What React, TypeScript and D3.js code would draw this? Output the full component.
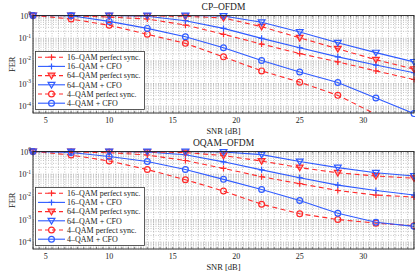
import React from 'react';
import { scaleLinear, scaleLog, line, range } from 'd3';

const width = 415;
const height = 272;
const plotLeft = 33;
const plotRight = 414;
const plotTop = 15.5;
const plotBottom = 113;
const panelOffset = 136;

const snr = [4, 7, 10, 13, 16, 19, 22, 25, 28, 31, 34];
const xTicks = [5, 10, 15, 20, 25, 30];
const yTicks = [0, -1, -2, -3, -4];

// CP-OFDM
const cpQam16Perfect = [1, 0.97, 0.85, 0.7, 0.38, 0.148, 0.055, 0.021, 0.009, 0.0036, 0.0015];
const cpQam16Cfo = [1, 1, 1, 0.93, 0.59, 0.27, 0.098, 0.038, 0.015, 0.0065, 0.003];
const cpQam64Perfect = [1, 1, 0.98, 0.96, 0.92, 0.78, 0.32, 0.104, 0.034, 0.0112, 0.0043];
const cpQam64Cfo = [1, 1, 1, 1, 1, 0.95, 0.5, 0.186, 0.063, 0.023, 0.009];
const cpQam4Perfect = [1, 0.7, 0.37, 0.148, 0.059, 0.015, 0.0036, 0.00115, 0.0003, 0.000044, 0.00001];
const cpQam4Cfo = [1, 0.97, 0.55, 0.27, 0.115, 0.038, 0.0104, 0.0032, 0.0011, 0.00023, 0.000047];

// OQAM-OFDM
const oqQam16Perfect = [1, 0.97, 0.88, 0.7, 0.4, 0.18, 0.077, 0.038, 0.019, 0.012, 0.0098];
const oqQam16Cfo = [1, 1, 1, 0.95, 0.72, 0.35, 0.155, 0.07, 0.033, 0.019, 0.012];
const oqQam64Perfect = [1, 1, 0.98, 0.95, 0.9, 0.66, 0.38, 0.195, 0.115, 0.083, 0.066];
const oqQam64Cfo = [1, 1, 1, 1, 1, 0.95, 0.73, 0.36, 0.195, 0.115, 0.083];
const oqQam4Perfect = [1, 0.7, 0.38, 0.16, 0.057, 0.018, 0.0047, 0.0018, 0.001, 0.00069, 0.00053];
const oqQam4Cfo = [1, 0.9, 0.6, 0.36, 0.16, 0.059, 0.021, 0.0069, 0.0019, 0.00076, 0.0005];

const labels = [
  '16\u2013QAM perfect sync.',
  '16\u2013QAM + CFO',
  '64\u2013QAM perfect sync.',
  '64\u2013QAM + CFO',
  '4\u2013QAM perfect sync.',
  '4\u2013QAM + CFO',
];
const markers = ['plus', 'plus', 'tri', 'tri', 'circle', 'circle'];

const red = '#ff2a2a';
const blue = '#2f5bff';
const font = '"Liberation Serif", "DejaVu Serif", serif';

const x = scaleLinear().domain([4, 34]).range([plotLeft, plotRight]);
const y = scaleLog().domain([5e-5, 1]).range([plotBottom, plotTop]);

const Marker = ({ kind, cx, cy, color }) => {
  if (kind === 'plus') {
    return (
      <path d={`M${cx - 3},${cy}H${cx + 3}M${cx},${cy - 3}V${cy + 3}`} stroke={color} strokeWidth={1.2} fill="none" />
    );
  }
  if (kind === 'tri') {
    return (
      <path d={`M${cx - 3.4},${cy - 2.4}L${cx + 3.4},${cy - 2.4}L${cx},${cy + 3.2}Z`} stroke={color} strokeWidth={1.2}
        fill={color === red ? red : 'none'} fillOpacity={0.35} />
    );
  }
  return <circle cx={cx} cy={cy} r={2.9} stroke={color} strokeWidth={1.2} fill="none" />;
};

const Panel = ({ title, series, offset, clipId }) => {
  const lineGen = line().x((d, i) => x(snr[i])).y(d => y(d));
  const minorY = [];
  for (let e = -5; e < 0; e++) {
    for (let m = 1; m < 10; m++) {
      const v = m * Math.pow(10, e);
      if (v >= 5e-5 && v <= 1) minorY.push(v);
    }
  }
  const minorX = range(4, 34.01, 0.5);
  const colors = [red, blue, red, blue, red, blue];

  return (
    <g transform={`translate(0, ${offset})`}>
      <defs>
        <clipPath id={clipId}>
          <rect x={plotLeft} y={plotTop} width={plotRight - plotLeft} height={plotBottom - plotTop} />
        </clipPath>
      </defs>
      {/* grid */}
      {minorX.map(v => (
        <line key={'gx' + v} x1={x(v)} x2={x(v)} y1={plotTop} y2={plotBottom}
          stroke="#9a9a9a" strokeWidth={0.6} strokeDasharray="1,1.5" />
      ))}
      {minorY.map(v => (
        <line key={'gy' + v} x1={plotLeft} x2={plotRight} y1={y(v)} y2={y(v)}
          stroke="#9a9a9a" strokeWidth={0.6} strokeDasharray="1,1.5" />
      ))}
      {/* series */}
      <g clipPath={`url(#${clipId})`}>
        {series.map((s, i) => (
          <path key={'l' + i} d={lineGen(s)} fill="none" stroke={colors[i]} strokeWidth={1.1}
            strokeDasharray={i % 2 === 0 ? '5,3.5' : null} />
        ))}
      </g>
      {series.map((s, i) =>
        s.map((v, j) =>
          y(v) <= plotBottom + 1 ? (
            <Marker key={`m${i}-${j}`} kind={markers[i]} cx={x(snr[j])} cy={y(v)} color={colors[i]} />
          ) : null
        )
      )}
      {/* axes box */}
      <rect x={plotLeft} y={plotTop} width={plotRight - plotLeft} height={plotBottom - plotTop}
        fill="none" stroke="#222" strokeWidth={0.9} />
      {minorX.map(v => (
        <g key={'tx' + v}>
          <line x1={x(v)} x2={x(v)} y1={plotBottom} y2={plotBottom - 2} stroke="#333" strokeWidth={0.5} />
          <line x1={x(v)} x2={x(v)} y1={plotTop} y2={plotTop + 2} stroke="#333" strokeWidth={0.5} />
        </g>
      ))}
      {xTicks.map(v => (
        <text key={'xl' + v} x={x(v)} y={plotBottom + 10} textAnchor="middle" fontSize={8} fontFamily={font} fill="#222">
          {v}
        </text>
      ))}
      {yTicks.map(e => (
        <text key={'yl' + e} x={plotLeft - 2} y={y(Math.pow(10, e)) + 3} textAnchor="end" fontSize={8} fontFamily={font} fill="#222">
          10<tspan fontSize={5.5} dy={-3.5}>{e}</tspan>
        </text>
      ))}
      <text x={12} y={(plotTop + plotBottom) / 2 + 3} transform={`rotate(-90, 12, ${(plotTop + plotBottom) / 2})`}
        textAnchor="middle" fontSize={8.5} fontFamily={font} fill="#222">FER</text>
      <text x={(plotLeft + plotRight) / 2} y={plotBottom + 21} textAnchor="middle" fontSize={8.5} fontFamily={font} fill="#222">
        SNR [dB]
      </text>
      <text x={(plotLeft + plotRight) / 2} y={10} textAnchor="middle" fontSize={9.5} fontFamily={font} fill="#222">
        {title}
      </text>
      {/* legend */}
      <g>
        <rect x={35.5} y={51.5} width={109} height={58} fill="white" stroke="#333" strokeWidth={0.8} />
        {labels.map((lab, i) => {
          const ly = 57.2 + i * 9.2;
          return (
            <g key={'lg' + i}>
              <line x1={38} x2={65} y1={ly} y2={ly} stroke={colors[i]} strokeWidth={1.1}
                strokeDasharray={i % 2 === 0 ? '4,3' : null} />
              <Marker kind={markers[i]} cx={51.5} cy={ly} color={colors[i]} />
              <text x={67} y={ly + 2.8} fontSize={8} fontFamily={font} fill="#222">{lab}</text>
            </g>
          );
        })}
      </g>
    </g>
  );
};

export default function App() {
  return (
    <svg width={width} height={height} style={{ position: 'absolute', left: 0, top: 0, background: 'white' }}>
      <Panel title={'CP\u2013OFDM'} offset={0} clipId="clipA"
        series={[cpQam16Perfect, cpQam16Cfo, cpQam64Perfect, cpQam64Cfo, cpQam4Perfect, cpQam4Cfo]} />
      <Panel title={'OQAM\u2013OFDM'} offset={panelOffset} clipId="clipB"
        series={[oqQam16Perfect, oqQam16Cfo, oqQam64Perfect, oqQam64Cfo, oqQam4Perfect, oqQam4Cfo]} />
    </svg>
  );
}
